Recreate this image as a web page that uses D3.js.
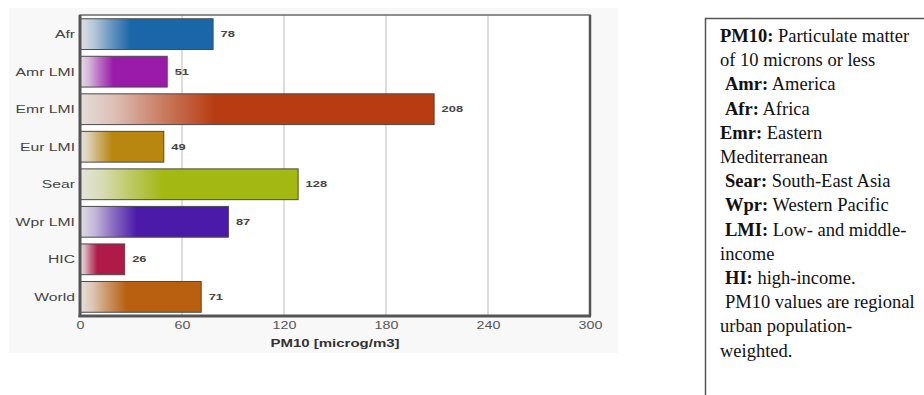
<!DOCTYPE html>
<html>
<head>
<meta charset="utf-8">
<script src="https://cdn.jsdelivr.net/npm/d3@7"></script>
<style>
  html, body { margin: 0; padding: 0; background: #ffffff; }
  svg { display: block; }
  text { white-space: pre; }
</style>
</head>
<body>
<svg id="chart" width="924" height="395"></svg>
<script>
// Regional urban PM10 concentrations
const categories = ["Afr", "Amr LMI", "Emr LMI", "Eur LMI", "Sear", "Wpr LMI", "HIC", "World"];
const values = [78, 51, 208, 49, 128, 87, 26, 71];
const barColors = ["#1a66a8", "#9a1aaa", "#b83c12", "#b8870f", "#a3b812", "#4c1aa9", "#b01a48", "#b8600f"];
const xTicks = [0, 60, 120, 180, 240, 300];
const axisTitle = "PM10 [microg/m3]";

// Side note: [bold lead, regular text, indented]
const noteLines = [
  ["PM10:", " Particulate matter", false],
  ["", "of 10 microns or less", false],
  ["Amr:", " America", true],
  ["Afr:", " Africa", true],
  ["Emr:", " Eastern", false],
  ["", "Mediterranean", false],
  ["Sear:", " South-East Asia", true],
  ["Wpr:", " Western Pacific", true],
  ["LMI:", " Low- and middle-", true],
  ["", "income", false],
  ["HI:", " high-income.", true],
  ["", "PM10 values are regional", true],
  ["", "urban population-", false],
  ["", "weighted.", false]
];

const svg = d3.select("#chart");
const sx = 1.43; // horizontal stretch of the chart lettering
const fontSans = "'Liberation Sans', Arial, Helvetica, sans-serif";

// Chart panel
svg.append("rect").attr("x", 9).attr("y", 8).attr("width", 609).attr("height", 345).attr("fill", "#f8f8f8");

const plot = { left: 80, right: 590, top: 15, bottom: 316 };

const x = d3.scaleLinear().domain([0, 300]).range([plot.left, plot.right]);
const y = d3.scaleBand().domain(categories).range([plot.top, plot.bottom]).paddingInner(0.18).paddingOuter(0.1);

svg.append("rect")
  .attr("x", plot.left).attr("y", plot.top)
  .attr("width", plot.right - plot.left).attr("height", plot.bottom - plot.top)
  .attr("fill", "#ffffff");

// Gridlines
svg.append("g").selectAll("line")
  .data(xTicks.filter(t => t > 0 && t < 300))
  .join("line")
  .attr("x1", d => x(d)).attr("x2", d => x(d))
  .attr("y1", plot.top).attr("y2", plot.bottom)
  .attr("stroke", "#d2d2d2").attr("stroke-width", 1.5);

// Gradients: pale on the left, full colour from ~38% of the bar
const defs = svg.append("defs");
categories.forEach((c, i) => {
  const g = defs.append("linearGradient").attr("id", "grad" + i)
    .attr("x1", "0%").attr("x2", "100%").attr("y1", "0%").attr("y2", "0%");
  const base = d3.color(barColors[i]);
  const mix = d3.interpolateRgb("#e8e8e8", base);
  g.append("stop").attr("offset", "0%").attr("stop-color", mix(0.06));
  g.append("stop").attr("offset", "10%").attr("stop-color", mix(0.25));
  g.append("stop").attr("offset", "22%").attr("stop-color", mix(0.6));
  g.append("stop").attr("offset", "38%").attr("stop-color", base.formatHex());
  g.append("stop").attr("offset", "100%").attr("stop-color", base.formatHex());
});

// Bars
svg.append("g").selectAll("rect")
  .data(values)
  .join("rect")
  .attr("x", x(0) + 0.5)
  .attr("y", (d, i) => y(categories[i]))
  .attr("width", d => x(d) - x(0))
  .attr("height", y.bandwidth())
  .attr("fill", (d, i) => `url(#grad${i})`)
  .attr("stroke", "#4a4a4a").attr("stroke-width", 1);

// Value labels
svg.append("g").selectAll("text")
  .data(values)
  .join("text")
  .attr("transform", (d, i) => `translate(${x(d) + 8},${y(categories[i]) + y.bandwidth() / 2}) scale(${sx},1)`)
  .attr("dy", "0.35em")
  .attr("font-family", fontSans).attr("font-size", 9).attr("font-weight", "bold")
  .attr("fill", "#444")
  .text(d => d);

// Plot frame
svg.append("rect")
  .attr("x", plot.left).attr("y", plot.top)
  .attr("width", plot.right - plot.left).attr("height", plot.bottom - plot.top)
  .attr("fill", "none").attr("stroke", "#6a6a6a").attr("stroke-width", 1.5);
svg.append("line").attr("x1", plot.right).attr("x2", plot.right).attr("y1", plot.top).attr("y2", plot.bottom)
  .attr("stroke", "#555").attr("stroke-width", 2.5);

// Category axis
const yAxis = svg.append("g").attr("transform", `translate(${plot.left},0)`).call(d3.axisLeft(y).tickSize(0).tickPadding(0));
yAxis.select(".domain").attr("stroke", "#555").attr("stroke-width", 3)
  .attr("d", `M0,${plot.top}V${plot.bottom + 1}`);
yAxis.selectAll(".tick text")
  .attr("x", null).attr("dy", "0.35em")
  .attr("transform", `translate(-5,0) scale(${sx},1)`)
  .attr("font-family", fontSans).attr("font-size", 11).attr("fill", "#444");

// Value axis
const xAxis = svg.append("g").attr("transform", `translate(0,${plot.bottom})`)
  .call(d3.axisBottom(x).tickValues(xTicks).tickSize(0).tickPadding(0));
xAxis.select(".domain").attr("stroke", "#555").attr("stroke-width", 3)
  .attr("d", `M${plot.left - 1.5},0H${plot.right + 1}`);
xAxis.selectAll(".tick text")
  .attr("y", null).attr("dy", null)
  .attr("transform", `translate(0,13) scale(${sx},1)`)
  .attr("font-family", fontSans).attr("font-size", 10).attr("fill", "#555");

svg.append("text")
  .attr("transform", `translate(${(plot.left + plot.right) / 2},${347}) scale(${sx},1)`)
  .attr("text-anchor", "middle")
  .attr("font-family", fontSans).attr("font-size", 10.5).attr("font-weight", "bold")
  .attr("fill", "#333")
  .text(axisTitle);

// Note box
svg.append("path").attr("d", "M705.5,396V18.5H925")
  .attr("fill", "none").attr("stroke", "#555").attr("stroke-width", 1.5);

const note = svg.append("g")
  .attr("font-family", "'Liberation Serif', 'Times New Roman', serif")
  .attr("font-size", 18.5).attr("fill", "#111");
note.selectAll("text")
  .data(noteLines)
  .join("text")
  .attr("x", d => d[2] ? 725 : 720)
  .attr("y", (d, i) => 42 + i * 24.2)
  .each(function (d) {
    const t = d3.select(this);
    if (d[0]) t.append("tspan").attr("font-weight", "bold").text(d[0]);
    t.append("tspan").text(d[1]);
  });
</script>
</body>
</html>
